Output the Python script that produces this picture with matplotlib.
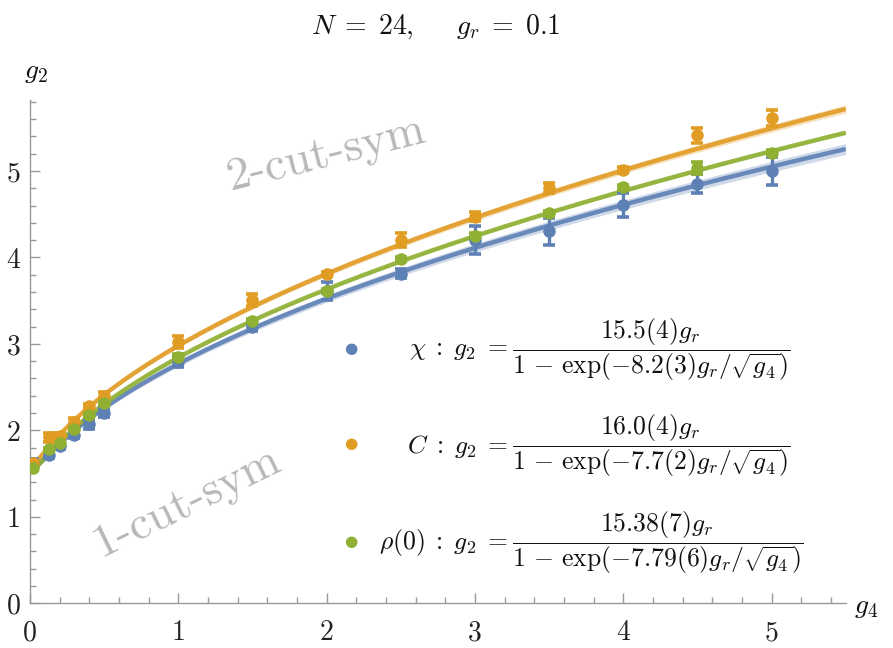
import numpy as np
import matplotlib
matplotlib.use("Agg")
import matplotlib.pyplot as plt
from matplotlib.ticker import FixedLocator, FixedFormatter, MultipleLocator

plt.rcParams['mathtext.fontset'] = 'cm'
plt.rcParams['font.family'] = ['cmr10', 'DejaVu Serif']
plt.rcParams['axes.unicode_minus'] = False

# ---------------- data ----------------
g_r = 0.1
g4 = [0.02, 0.13, 0.2, 0.3, 0.4, 0.5, 1.0, 1.5, 2.0, 2.5, 3.0, 3.5, 4.0, 4.5, 5.0]

chi_vals = [1.62, 1.72, 1.82, 1.95, 2.07, 2.20, 2.79, 3.19, 3.61, 3.81, 4.20, 4.30, 4.61, 4.85, 5.00]
chi_errs = [0.05, 0.04, 0.04, 0.04, 0.05, 0.05, 0.06, 0.04, 0.10, 0.05, 0.16, 0.16, 0.14, 0.11, 0.16]

C_vals = [1.62, 1.92, 1.93, 2.10, 2.28, 2.40, 3.02, 3.51, 3.81, 4.20, 4.47, 4.80, 5.01, 5.41, 5.61]
C_errs = [0.03, 0.05, 0.04, 0.04, 0.03, 0.04, 0.07, 0.07, 0.02, 0.08, 0.05, 0.06, 0.03, 0.09, 0.09]

rho_vals = [1.56, 1.78, 1.85, 2.02, 2.18, 2.32, 2.85, 3.27, 3.61, 3.98, 4.25, 4.51, 4.81, 5.03, 5.21]
rho_errs = [0.02, 0.02, 0.02, 0.02, 0.02, 0.02, 0.03, 0.02, 0.02, 0.02, 0.03, 0.03, 0.03, 0.07, 0.03]

# fit parameters:  g2 = A g_r / (1 - exp(-B g_r / sqrt(g4)))
fit_A = {'chi': 15.5, 'C': 16.0, 'rho': 15.38}
fit_B = {'chi': 8.2, 'C': 7.7, 'rho': 7.79}
band_rel = {'chi': 0.012, 'C': 0.008, 'rho': 0.004}

labels_prefix = {'chi': r'$\chi\;:\;g_2\;=$', 'C': r'$C\;:\;g_2\;=$', 'rho': r'$\rho(0)\;:\;g_2\;=$'}
labels_frac = {
    'chi': r'$\dfrac{15.5(4)g_r}{1\,-\,\exp(-8.2(3)g_r/\sqrt{g_4})}$',
    'C': r'$\dfrac{16.0(4)g_r}{1\,-\,\exp(-7.7(2)g_r/\sqrt{g_4})}$',
    'rho': r'$\dfrac{15.38(7)g_r}{1\,-\,\exp(-7.79(6)g_r/\sqrt{g_4})}$',
}

xticks = [0, 1, 2, 3, 4, 5]
xticklabels = ['0', '1', '2', '3', '4', '5']
yticks = [0, 1, 2, 3, 4, 5]
yticklabels = ['0', '1', '2', '3', '4', '5']

colors = {'chi': '#5E81B5', 'C': '#E19C24', 'rho': '#8FB032'}
band_colors = {'chi': '#AFC0DA', 'C': '#F0CD92', 'rho': '#C7D798'}

series = {
    'chi': (chi_vals, chi_errs),
    'C': (C_vals, C_errs),
    'rho': (rho_vals, rho_errs),
}

# ---------------- figure ----------------
W, H = 893, 648
fig = plt.figure(figsize=(W / 100, H / 100), dpi=100)
ax = fig.add_axes([30 / W, 1 - 603.3 / H, (845.7 - 30) / W, (603.3 - 100) / H])
ax.set_xlim(0, 5.5)
ax.set_ylim(0, 5.82)

xs = np.linspace(0, 5.5, 400)
with np.errstate(divide='ignore'):
    for key in ['chi', 'C', 'rho']:
        A, B = fit_A[key], fit_B[key]
        y = A * g_r / (1 - np.exp(-B * g_r / np.sqrt(xs)))
        ax.fill_between(xs, y * (1 - band_rel[key]), y * (1 + band_rel[key]),
                        color=band_colors[key], alpha=0.6, lw=0, zorder=1)
        ax.plot(xs, y, color=colors[key], lw=3.2, alpha=0.9, zorder=2,
                solid_capstyle='butt')

for key in ['chi', 'C', 'rho']:
    vals, errs = series[key]
    ax.errorbar(g4, vals, yerr=errs, fmt='o', color=colors[key], ms=8,
                elinewidth=2.4, capsize=4.5, capthick=2.6, zorder=3)

# spines & ticks
for s in ['top', 'right']:
    ax.spines[s].set_visible(False)
for s in ['left', 'bottom']:
    ax.spines[s].set_color('#999999')
    ax.spines[s].set_linewidth(1.0)
ax.xaxis.set_major_locator(FixedLocator(xticks))
ax.xaxis.set_major_formatter(FixedFormatter(xticklabels))
ax.yaxis.set_major_locator(FixedLocator(yticks))
ax.yaxis.set_major_formatter(FixedFormatter(yticklabels))
ax.xaxis.set_minor_locator(MultipleLocator(0.2))
ax.yaxis.set_minor_locator(MultipleLocator(0.2))
ax.tick_params(which='both', direction='in', color='#999999', width=1.0)
ax.tick_params(which='major', length=7)
ax.tick_params(which='minor', length=4)
ax.tick_params(axis='x', which='major', pad=12, labelsize=20, labelcolor='#222222')
ax.tick_params(axis='y', which='major', pad=7, labelsize=20, labelcolor='#222222')

# axis labels
fig.text(36 / W, 1 - 72 / H, r'$g_2$', fontsize=20, ha='center', va='center', color='#111111')
fig.text(866 / W, 1 - 607 / H, r'$g_4$', fontsize=20, ha='center', va='center', color='#111111')

# title
fig.text(436 / W, 1 - 27 / H, r'$N\;=\;24,\quad\;\; g_r\;=\;0.1$', fontsize=20,
         ha='center', va='center', color='#111111')

# region labels
ax.text(326 / W, 1 - 154 / H, '2-cut-sym', transform=fig.transFigure, fontsize=34,
        color='#B8B8B8', rotation=14, ha='center', va='center', family='cmr10')
ax.text(187 / W, 1 - 502 / H, '1-cut-sym', transform=fig.transFigure, fontsize=34,
        color='#B8B8B8', rotation=26, ha='center', va='center', family='cmr10')

# legend (manual)
leg_y = {'chi': 350, 'C': 446, 'rho': 543}
for key in ['chi', 'C', 'rho']:
    yy = 1 - leg_y[key] / H
    fig.text(351 / W, 1 - (leg_y[key] - 2) / H, '\u25CF', color=colors[key], fontsize=11,
             ha='center', va='center', family='DejaVu Sans')
    fig.text(508 / W, yy, labels_prefix[key], fontsize=18.5, ha='right', va='center',
             color='#111111')
    fig.text(512 / W, yy, labels_frac[key], fontsize=18.5, ha='left', va='center',
             color='#111111')

fig.savefig('out.png', dpi=100)
